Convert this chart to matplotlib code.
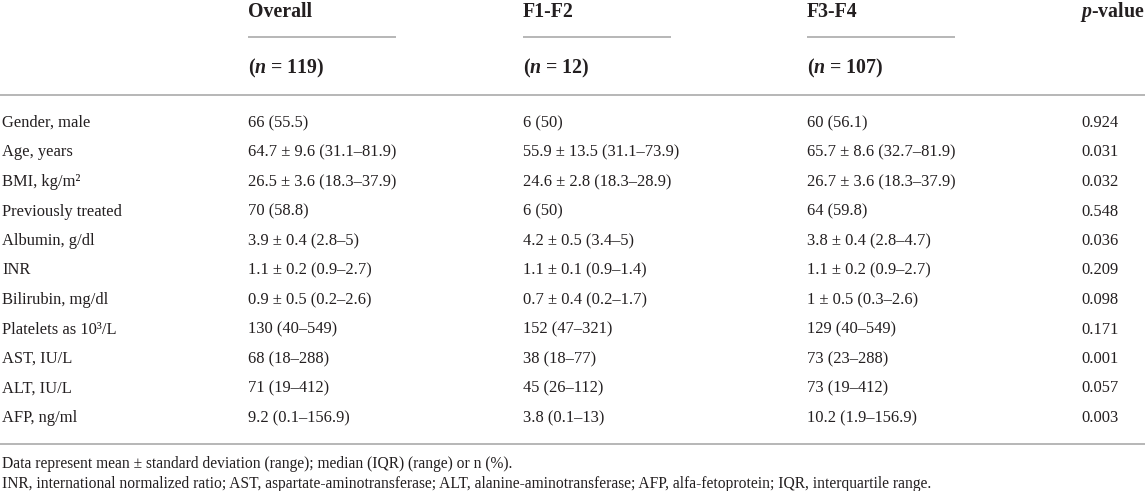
import matplotlib
matplotlib.use("Agg")
import matplotlib.pyplot as plt

plt.rcParams['font.family'] = ['Liberation Serif', 'DejaVu Serif']
plt.rcParams['mathtext.fontset'] = 'custom'
plt.rcParams['mathtext.rm'] = 'Liberation Serif'
plt.rcParams['mathtext.it'] = 'Liberation Serif:italic'
plt.rcParams['mathtext.bf'] = 'Liberation Serif:bold'
plt.rcParams['mathtext.bfit'] = 'Liberation Serif:italic:bold'

columns = ["Overall", "F1-F2", "F3-F4"]
col_n = [119, 12, 107]
pvalue_header = r"$\mathbfit{p}$-value"

row_labels = ["Gender, male", "Age, years", "BMI, kg/m²", "Previously treated",
              "Albumin, g/dl", "INR", "Bilirubin, mg/dl", "Platelets as 10³/L",
              "AST, IU/L", "ALT, IU/L", "AFP, ng/ml"]
overall = ["66 (55.5)", "64.7 ± 9.6 (31.1–81.9)", "26.5 ± 3.6 (18.3–37.9)", "70 (58.8)",
           "3.9 ± 0.4 (2.8–5)", "1.1 ± 0.2 (0.9–2.7)", "0.9 ± 0.5 (0.2–2.6)", "130 (40–549)",
           "68 (18–288)", "71 (19–412)", "9.2 (0.1–156.9)"]
f1f2 = ["6 (50)", "55.9 ± 13.5 (31.1–73.9)", "24.6 ± 2.8 (18.3–28.9)", "6 (50)",
        "4.2 ± 0.5 (3.4–5)", "1.1 ± 0.1 (0.9–1.4)", "0.7 ± 0.4 (0.2–1.7)", "152 (47–321)",
        "38 (18–77)", "45 (26–112)", "3.8 (0.1–13)"]
f3f4 = ["60 (56.1)", "65.7 ± 8.6 (32.7–81.9)", "26.7 ± 3.6 (18.3–37.9)", "64 (59.8)",
        "3.8 ± 0.4 (2.8–4.7)", "1.1 ± 0.2 (0.9–2.7)", "1 ± 0.5 (0.3–2.6)", "129 (40–549)",
        "73 (23–288)", "73 (19–412)", "10.2 (1.9–156.9)"]
pvalues = ["0.924", "0.031", "0.032", "0.548", "0.036", "0.209", "0.098", "0.171",
           "0.001", "0.057", "0.003"]
footnotes = ["Data represent mean ± standard deviation (range); median (IQR) (range) or n (%).",
             "INR, international normalized ratio; AST, aspartate-aminotransferase; ALT, alanine-aminotransferase; AFP, alfa-fetoprotein; IQR, interquartile range."]

W, H = 1145, 491
fig = plt.figure(figsize=(W / 100, H / 100), dpi=100)
ax = fig.add_axes([0, 0, 1, 1])
ax.set_xlim(0, W)
ax.set_ylim(H, 0)
ax.axis('off')

txt_color = '#231f20'
line_color = '#a3a3a3'
body_fs = 11.9
head_fs = 14.3
foot_fs = 11.2

label_x = 2
col_x = [248, 523, 807]
p_x = 1081
underline_len = 148

# headers
for x, name, n in zip(col_x, columns, col_n):
    ax.text(x, 11.5, name, fontsize=head_fs, fontweight='bold', color=txt_color,
            ha='left', va='center')
    ax.plot([x, x + underline_len], [37, 37], color=line_color, lw=1.1,
            solid_capstyle='butt')
    ax.text(x, 68, r"($\mathbfit{n}$ = %d)" % n, fontsize=head_fs, fontweight='bold',
            color=txt_color, ha='left', va='center')
ax.text(p_x - 1, 11.5, pvalue_header, fontsize=head_fs, fontweight='bold', color=txt_color,
        ha='left', va='center')

ax.plot([0, W], [94.5, 94.5], color=line_color, lw=1.1, solid_capstyle='butt')

y0, dy = 123, 29.5
for i, lab in enumerate(row_labels):
    y = y0 + i * dy
    ax.text(label_x, y, lab, fontsize=body_fs, color=txt_color, ha='left', va='center')
    ax.text(col_x[0], y, overall[i], fontsize=body_fs, color=txt_color, ha='left', va='center')
    ax.text(col_x[1], y, f1f2[i], fontsize=body_fs, color=txt_color, ha='left', va='center')
    ax.text(col_x[2], y, f3f4[i], fontsize=body_fs, color=txt_color, ha='left', va='center')
    ax.text(p_x, y, pvalues[i], fontsize=body_fs, color=txt_color, ha='left', va='center')

ax.plot([0, W], [444, 444], color=line_color, lw=1.1, solid_capstyle='butt')

ax.text(label_x, 464, footnotes[0], fontsize=foot_fs, color=txt_color, ha='left', va='center')
ax.text(label_x, 484, footnotes[1], fontsize=foot_fs, color=txt_color, ha='left', va='center')

fig.savefig("out.png", dpi=100)
